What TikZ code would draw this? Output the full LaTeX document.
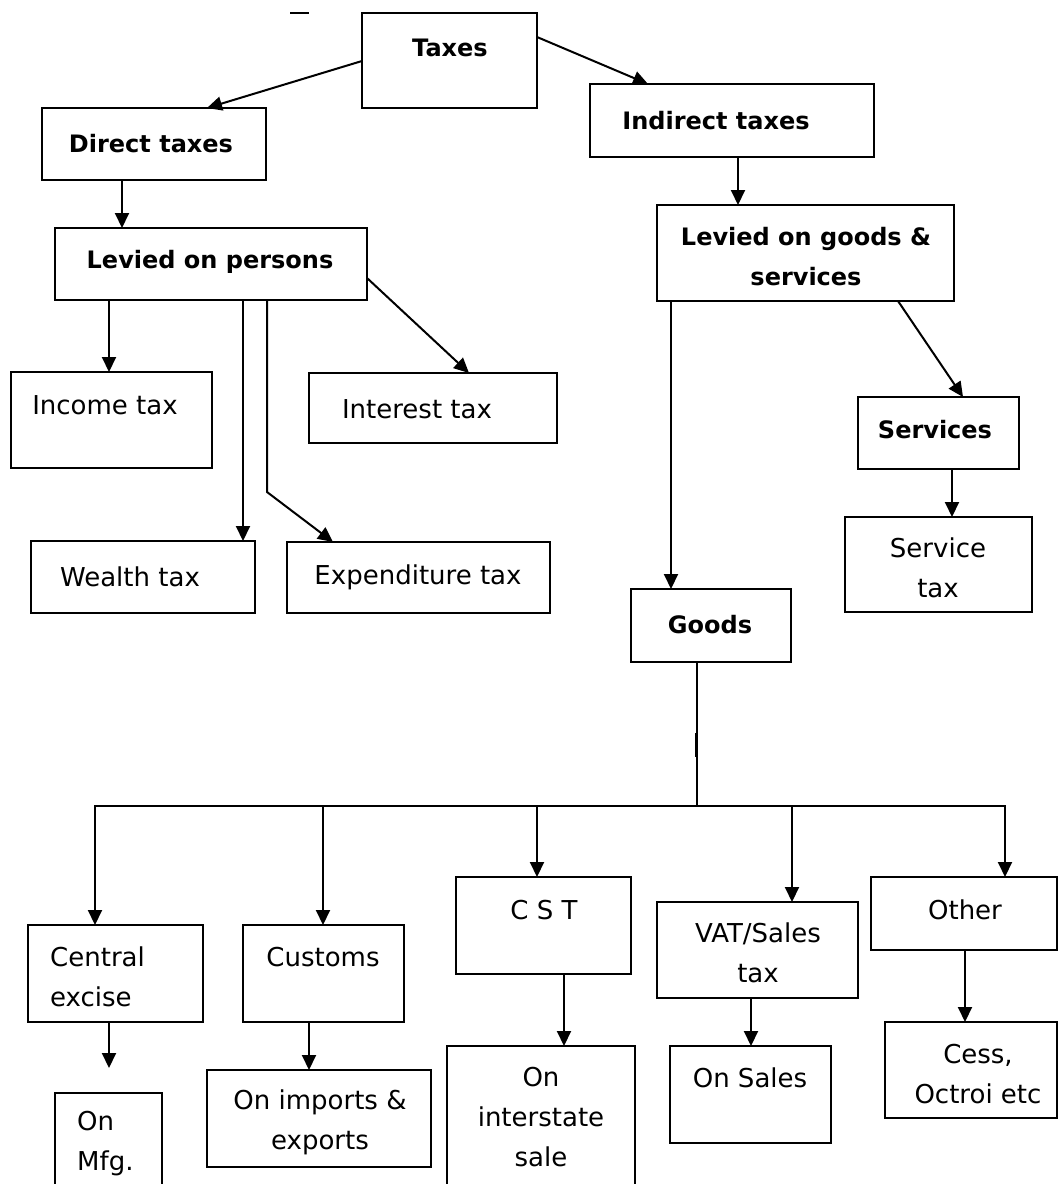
\documentclass[tikz,border=0pt]{standalone}
\usepackage{fontspec}
\setmainfont{DejaVu Sans}
\usetikzlibrary{arrows.meta}

% box given by its corners: name, x1, y1, x2, y2
\newcommand\taxbox[5]{%
  \node[box, minimum width={(#4)-(#2)}, minimum height={(#5)-(#3)}]
    (#1) at ({((#2)+(#4))/2},{((#3)+(#5))/2}) {};}

\tikzset{
  box/.style={draw, line width=2pt, inner sep=0pt, outer sep=0pt, rectangle},
  txt/.style={inner sep=0pt, align=center, font=\fontsize{26}{40}\selectfont},
  btxt/.style={inner sep=0pt, align=center, font=\fontsize{24}{40}\selectfont\bfseries},
  conn/.style={line width=2pt},
  arr/.style={line width=2pt, -{Triangle[length=15pt,width=14pt]}},
}

\begin{document}
\begin{tikzpicture}[x=1pt,y=-1pt]
\useasboundingbox (0,0) rectangle (1058,1184);

% boxes
\taxbox{taxes}{362}{13}{537}{108}
\taxbox{direct}{42}{108}{266}{180}
\taxbox{indirect}{590}{84}{874}{157}
\taxbox{levp}{55}{228}{367}{300}
\taxbox{levg}{657}{205}{954}{301}
\taxbox{income}{11}{372}{212}{468}
\taxbox{interest}{309}{373}{557}{443}
\taxbox{wealth}{31}{541}{255}{613}
\taxbox{expend}{287}{542}{550}{613}
\taxbox{services}{858}{397}{1019}{469}
\taxbox{servtax}{845}{517}{1032}{612}
\taxbox{goods}{631}{589}{791}{662}
\taxbox{central}{28}{925}{203}{1022}
\taxbox{customs}{243}{925}{404}{1022}
\taxbox{cst}{456}{877}{631}{974}
\taxbox{vat}{657}{902}{858}{998}
\taxbox{other}{871}{877}{1057}{950}
\taxbox{cess}{885}{1022}{1057}{1118}
\taxbox{onmfg}{55}{1093}{162}{1200}
\taxbox{onimp}{207}{1070}{431}{1167}
\taxbox{onint}{447}{1046}{635}{1200}
\taxbox{onsales}{670}{1046}{831}{1143}

% labels
\node[btxt] (taxes-t) at (450,48) {Taxes};
\node[btxt] (direct-t) at (151,144) {Direct taxes};
\node[btxt] (indirect-t) at (716,121) {Indirect taxes};
\node[btxt] (levp-t) at (210,262) {Levied on persons};
\node[btxt] (levg-t) at (806,257) {Levied on goods \&\\services};
\node[txt] (income-t) at (105,405) {Income tax};
\node[txt] (interest-t) at (417,409) {Interest tax};
\node[txt] (wealth-t) at (130,577) {Wealth tax};
\node[txt] (expend-t) at (418,577) {Expenditure tax};
\node[btxt] (services-t) at (935,430) {Services};
\node[txt] (servtax-t) at (938,568) {Service\\tax};
\node[btxt] (goods-t) at (710,625) {Goods};
\node[txt, align=left, anchor=west] (central-t) at (50,977) {Central\\excise};
\node[txt] (customs-t) at (323,957) {Customs};
\node[txt] (cst-t) at (544,910) {C S T};
\node[txt] (vat-t) at (758,953) {VAT/Sales\\tax};
\node[txt] (other-t) at (965,910) {Other};
\node[txt, align=left, anchor=west] (onmfg-t) at (77,1144) {On\\Mfg.};
\node[txt] (onimp-t) at (320,1122) {On imports \&\\exports};
\node[txt] (onint-t) at (541,1117) {On\\interstate\\sale};
\node[txt] (onsales-t) at (750,1078) {On Sales};
\node[txt] (cess-t) at (978,1074) {Cess,\\Octroi etc};

% stray mark at the top
\draw[conn] (290,13) -- (309,13);

% upper connectors
\draw[arr] (taxes.west |- 0,61) -- (direct.north -| 207,0);
\draw[arr] (taxes.east |- 0,37) -- (indirect.north -| 648,0);
\draw[arr] (direct.south -| 122,0) -- (levp.north -| 122,0);
\draw[arr] (indirect.south -| 738,0) -- (levg.north -| 738,0);

% from levied on persons
\draw[arr] (levp.south -| 109,0) -- (income.north -| 109,0);
\draw[arr] (levp.south -| 243,0) -- (wealth.north -| 243,0);
\coordinate (expbend) at (267,492);
\draw[arr] (levp.south -| 267,0) -- (expbend) -- (expend.north -| 333,0);
\draw[arr] (levp.east |- 0,278) -- (interest.north -| 469,0);

% from levied on goods & services
\draw[arr] (levg.south -| 671,0) -- (goods.north -| 671,0);
\draw[arr] (levg.south -| 898,0) -- (services.north -| 963,0);
\draw[arr] (services.south -| 952,0) -- (servtax.north -| 952,0);

% goods distribution bus
\coordinate (busmid) at (697,806);
\coordinate (busl) at (95,806);
\coordinate (busr) at (1005,806);
\draw[conn] (goods.south -| 697,0) -- (busmid);
\draw[line width=3pt] (696.5,733) -- (696.5,757);
\draw[conn, line cap=rect] (busl) -- (busr);
\draw[arr] (busl) -- (central.north -| busl);
\draw[arr] (busl -| 323,0) -- (customs.north -| 323,0);
\draw[arr] (busl -| 537,0) -- (cst.north -| 537,0);
\draw[arr] (busl -| 792,0) -- (vat.north -| 792,0);
\draw[arr] (busr) -- (other.north -| busr);

% lower connectors
\coordinate (mfgtip) at (109,1068);
\draw[arr] (central.south -| mfgtip) -- (mfgtip);
\draw[arr] (customs.south -| 309,0) -- (onimp.north -| 309,0);
\draw[arr] (cst.south -| 564,0) -- (onint.north -| 564,0);
\draw[arr] (vat.south -| 751,0) -- (onsales.north -| 751,0);
\draw[arr] (other.south -| 965,0) -- (cess.north -| 965,0);
\end{tikzpicture}
\end{document}
